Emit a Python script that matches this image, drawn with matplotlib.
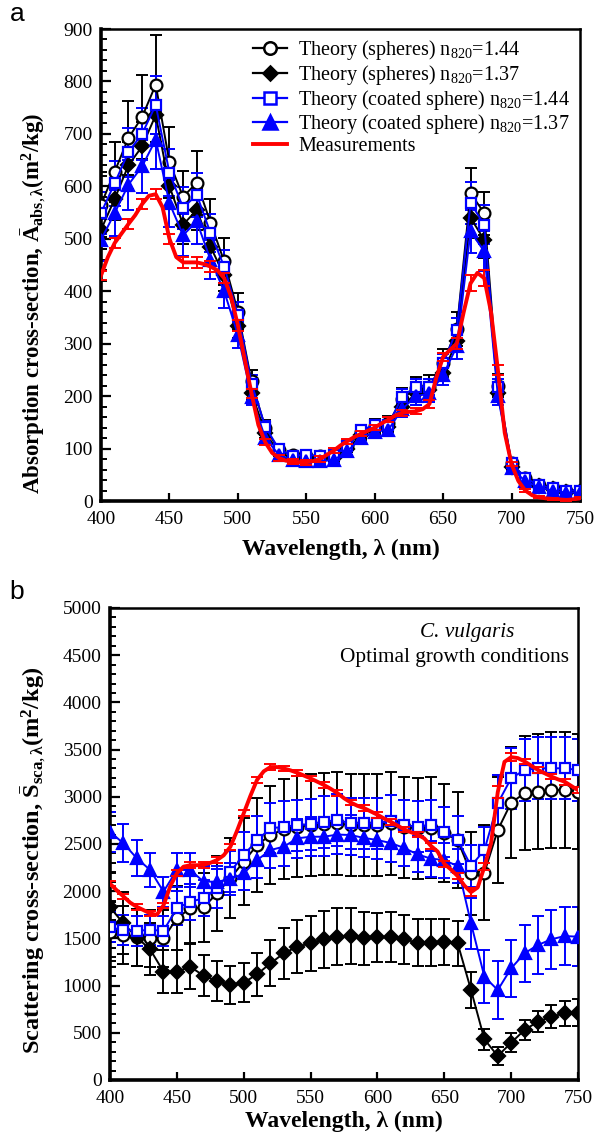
import matplotlib
matplotlib.use('Agg')
import matplotlib.pyplot as plt
from matplotlib.ticker import MultipleLocator
from matplotlib.lines import Line2D

plt.rcParams['font.family'] = ['Liberation Serif', 'DejaVu Serif']
plt.rcParams['mathtext.fontset'] = 'custom'
plt.rcParams['mathtext.rm'] = 'Liberation Serif'
plt.rcParams['mathtext.it'] = 'Liberation Serif:italic'
plt.rcParams['mathtext.bf'] = 'Liberation Serif:bold'

# ---------------- data ----------------
wl = list(range(400, 751, 10))
wl_meas = list(range(400, 751, 5))

labels = ["Theory (spheres) n$_{820}$=1.44",
          "Theory (spheres) n$_{820}$=1.37",
          "Theory (coated sphere) n$_{820}$=1.44",
          "Theory (coated sphere) n$_{820}$=1.37",
          "Measurements"]

# (a) absorption cross-section
abs_sph144 = [565, 628, 692, 732, 794, 646, 580, 607, 531, 457, 361, 228, 140, 97, 87, 85, 85, 88,
              105, 132, 143, 148, 195, 215, 218, 263, 328, 587, 549, 220, 72, 44, 30, 25, 20, 20]
abs_sph144_err = [62, 57, 70, 80, 95, 68, 50, 61, 45, 45, 35, 22, 14, 10, 9, 9, 9, 9,
                  11, 13, 14, 15, 20, 22, 22, 26, 33, 48, 41, 22, 7, 4, 3, 3, 2, 2]
abs_sph137 = [517, 576, 640, 676, 736, 600, 527, 555, 485, 430, 333, 206, 130, 92, 82, 80, 80, 82,
              100, 125, 138, 142, 180, 205, 212, 245, 305, 540, 498, 205, 65, 40, 28, 22, 18, 18]
abs_sph137_err = [36, 40, 45, 47, 52, 42, 37, 39, 34, 30, 23, 14, 9, 6, 6, 6, 6, 6,
                  7, 9, 10, 10, 13, 14, 15, 17, 21, 38, 35, 14, 5, 3, 2, 2, 1, 1]
abs_coat144 = [549, 606, 665, 700, 755, 626, 559, 584, 511, 447, 355, 224, 142, 99, 86, 88, 86, 88,
               104, 135, 145, 145, 199, 218, 218, 263, 326, 568, 527, 218, 72, 44, 30, 25, 20, 20]
abs_coat144_err = [40, 43, 47, 50, 56, 45, 40, 42, 36, 32, 25, 16, 10, 7, 6, 6, 6, 6,
                   7, 9, 10, 10, 14, 15, 15, 18, 23, 40, 37, 15, 5, 3, 2, 2, 2, 2]
abs_coat137 = [498, 549, 603, 638, 689, 568, 507, 533, 460, 400, 317, 199, 120, 88, 78, 76, 76, 78,
               95, 120, 132, 136, 175, 200, 205, 240, 295, 514, 476, 200, 62, 38, 26, 20, 16, 16]
abs_coat137_err = [40, 44, 48, 51, 55, 45, 40, 43, 37, 32, 25, 16, 10, 7, 6, 6, 6, 6,
                   8, 10, 11, 11, 14, 16, 16, 19, 24, 41, 38, 16, 5, 3, 2, 2, 2, 2]
abs_meas = [430, 465, 492, 510, 528, 545, 566, 582, 585, 560, 500, 465, 455, 455, 455, 452, 447, 440,
            425, 390, 335, 270, 205, 145, 112, 92, 82, 77, 75, 74, 74, 76, 80, 88, 96, 106,
            114, 122, 128, 134, 140, 148, 155, 163, 168, 170, 171, 175, 185, 235, 275, 288, 300, 360,
            415, 435, 425, 360, 250, 130, 70, 38, 20, 11, 7, 5, 4, 3, 2, 3, 5]
abs_meas_err = [8, 10, 10, 10, 10, 10, 10, 10, 10, 10, 10, 8, 6, 5, 5, 5, 5, 5,
                5, 5, 5, 5, 6, 6, 8, 8, 10, 15, 15, 10, 4, 3, 2, 2, 2, 2]

# (b) scattering cross-section
sca_sph144 = [1571, 1536, 1511, 1500, 1500, 1713, 1818, 1829, 1977, 2136, 2313, 2489, 2595, 2655, 2683,
              2701, 2708, 2719, 2700, 2700, 2700, 2720, 2680, 2665, 2670, 2613, 2540, 2189, 2196, 2648,
              2938, 3037, 3054, 3072, 3072, 3054]
sca_sph144_err = [315, 305, 300, 300, 300, 340, 365, 365, 395, 425, 460, 500, 520, 530, 535, 540, 540, 545,
                  540, 540, 540, 545, 535, 535, 535, 520, 510, 440, 500, 560, 590, 605, 610, 615, 615, 610]
sca_sph137 = [1829, 1660, 1511, 1384, 1148, 1148, 1200, 1105, 1049, 1006, 1031, 1120, 1236, 1342, 1412,
              1448, 1490, 1520, 1525, 1501, 1511, 1518, 1490, 1455, 1455, 1465, 1448, 953, 431, 254,
              395, 530, 618, 671, 706, 713]
sca_sph137_err = [365, 330, 300, 275, 230, 230, 240, 220, 210, 200, 210, 225, 245, 270, 280, 290, 300, 305,
                  300, 280, 260, 265, 260, 250, 250, 245, 240, 190, 110, 100, 100, 105, 110, 120, 130, 145]
sca_coat144 = [1617, 1589, 1582, 1589, 1582, 1818, 1889, 1924, 2030, 2207, 2383, 2540, 2666, 2683, 2701,
               2708, 2736, 2754, 2719, 2719, 2719, 2747, 2701, 2683, 2701, 2630, 2542, 2267, 2436, 2931,
               3196, 3284, 3302, 3302, 3302, 3284]
sca_coat144_err = [160, 160, 160, 160, 160, 180, 190, 190, 205, 220, 240, 255, 265, 270, 270, 270, 275, 275,
                   270, 270, 270, 275, 270, 270, 270, 265, 255, 225, 245, 295, 320, 330, 330, 330, 330, 330]
sca_coat137 = [2630, 2507, 2350, 2225, 1995, 2225, 2225, 2101, 2101, 2126, 2189, 2330, 2436, 2472, 2560,
               2577, 2577, 2600, 2595, 2564, 2542, 2510, 2458, 2390, 2345, 2330, 2265, 1660, 1094, 953,
               1183, 1342, 1430, 1490, 1525, 1518]
sca_coat137_err = [210, 200, 190, 180, 160, 180, 180, 170, 170, 170, 175, 185, 195, 200, 205, 205, 205, 210,
                   210, 205, 205, 200, 195, 190, 190, 185, 180, 270, 280, 310, 300, 300, 310, 310, 310, 310]
sca_meas = [2080, 2010, 1945, 1880, 1835, 1800, 1765, 1750, 1850, 2050, 2190, 2260, 2275, 2275, 2280,
            2300, 2330, 2380, 2470, 2640, 2825, 3010, 3180, 3270, 3315, 3315, 3300, 3280, 3255, 3225,
            3195, 3160, 3125, 3085, 3040, 2985, 2940, 2905, 2880, 2845, 2810, 2770, 2735, 2695, 2655,
            2625, 2600, 2560, 2480, 2420, 2290, 2230, 2160, 2060, 1990, 2040, 2260, 2510, 3050, 3370,
            3420, 3410, 3375, 3330, 3285, 3250, 3215, 3185, 3160, 3115, 3070]
sca_meas_err = [30, 30, 30, 30, 30, 30, 30, 30, 30, 30, 30, 30, 30, 30, 30, 30, 30, 30,
                30, 30, 30, 30, 30, 30, 30, 30, 30, 40, 40, 60, 40, 30, 30, 30, 30, 30]

BLUE = '#0000ff'
RED = '#ff0000'

styles = [dict(color='black', marker='o', mfc='white', ms=8.5),
          dict(color='black', marker='D', mfc='black', ms=7),
          dict(color=BLUE, marker='s', mfc='white', ms=7.5),
          dict(color=BLUE, marker='^', mfc=BLUE, ms=9)]

W, H = 610, 1142
fig = plt.figure(figsize=(W / 100, H / 100), dpi=100)


def axes_px(l, t, r, b):
    return fig.add_axes([l / W, 1 - b / H, (r - l) / W, (b - t) / H])


def draw_panel(ax, series, meas, meas_err):
    for (y, e), st in zip(series, styles):
        ax.errorbar(wl, y, yerr=e, fmt='none', ecolor=st['color'], elinewidth=1.4,
                    capsize=4, capthick=1.4, zorder=2)
        ax.plot(wl, y, color=st['color'], lw=1.4, marker=st['marker'], ms=st['ms'],
                mfc=st['mfc'], mec=st['color'], mew=1.6, zorder=3)
    ax.errorbar(wl_meas[::2], meas[::2], yerr=meas_err, fmt='none', ecolor=RED,
                elinewidth=1.4, capsize=4, capthick=1.4, zorder=4)
    ax.plot(wl_meas, meas, color=RED, lw=2.8, zorder=5, solid_joinstyle='round')


def style_axes(ax, ymax, major, minor, xlabelpad):
    ax.set_xlim(400, 750)
    ax.set_ylim(0, ymax)
    ax.xaxis.set_major_locator(MultipleLocator(50))
    ax.yaxis.set_major_locator(MultipleLocator(major))
    ax.yaxis.set_minor_locator(MultipleLocator(minor))
    ax.tick_params(axis='both', which='both', direction='in', top=False, right=False,
                   labelsize=14)
    ax.tick_params(axis='y', which='major', length=7, width=1.6, pad=6)
    ax.tick_params(axis='y', which='minor', length=4, width=1.4)
    ax.tick_params(axis='x', which='major', length=6, width=1.6, pad=7)
    for s in ['left', 'bottom']:
        ax.spines[s].set_linewidth(2.6)
    for s in ['right', 'top']:
        ax.spines[s].set_linewidth(1.8)
    ax.set_xlabel('Wavelength, λ (nm)', fontsize=17, fontweight='bold', labelpad=xlabelpad)


# ---- panel a ----
ax1 = axes_px(101, 29, 580, 501)
draw_panel(ax1, [(abs_sph144, abs_sph144_err), (abs_sph137, abs_sph137_err),
                 (abs_coat144, abs_coat144_err), (abs_coat137, abs_coat137_err)],
           abs_meas, abs_meas_err)
style_axes(ax1, 900, 100, 20, 8)
ax1.set_ylabel(r'Absorption cross-section, $\bar{\mathbf{A}}_{\mathbf{abs},\mathbf{\lambda}}$$\mathbf{(m^2/kg)}$',
               fontsize=16.5, fontweight='bold')
ax1.yaxis.set_label_coords(-0.112, 0.418)

handles = [Line2D([], [], color=st['color'], lw=1.6, marker=st['marker'], ms=st['ms'] + 0.5,
                  mfc=st['mfc'], mec=st['color'], mew=1.8) for st in styles]
handles.append(Line2D([], [], color=RED, lw=2.8))
ax1.legend(handles, labels, loc='upper left', bbox_to_anchor=(0.317, 0.981), frameon=False,
           fontsize=14.5, handlelength=1.7, handletextpad=0.55, labelspacing=0.04, borderpad=0,
           borderaxespad=0)

# ---- panel b ----
ax2 = axes_px(110, 608, 578, 1080)
draw_panel(ax2, [(sca_sph144, sca_sph144_err), (sca_sph137, sca_sph137_err),
                 (sca_coat144, sca_coat144_err), (sca_coat137, sca_coat137_err)],
           sca_meas, sca_meas_err)
style_axes(ax2, 5000, 500, 100, 3)
ax2.set_ylabel(r'Scattering cross-section, $\bar{\mathbf{S}}_{\mathbf{sca},\mathbf{\lambda}}$$\mathbf{(m^2/kg)}$',
               fontsize=17.5, fontweight='bold')
ax2.yaxis.set_label_coords(-0.133, 0.466)
ax2.text(0.763, 0.949, 'C. vulgaris', transform=ax2.transAxes, ha='center', va='center',
         fontsize=15.3, style='italic')
ax2.text(0.737, 0.896, 'Optimal growth conditions', transform=ax2.transAxes, ha='center',
         va='center', fontsize=15.3)

fig.text(17 / W, 1 - 14 / H, 'a', fontsize=19, family='Liberation Sans', ha='center', va='center')
fig.text(17 / W, 1 - 592 / H, 'b', fontsize=19, family='Liberation Sans', ha='center', va='center')

fig.savefig('out.png', dpi=100)
